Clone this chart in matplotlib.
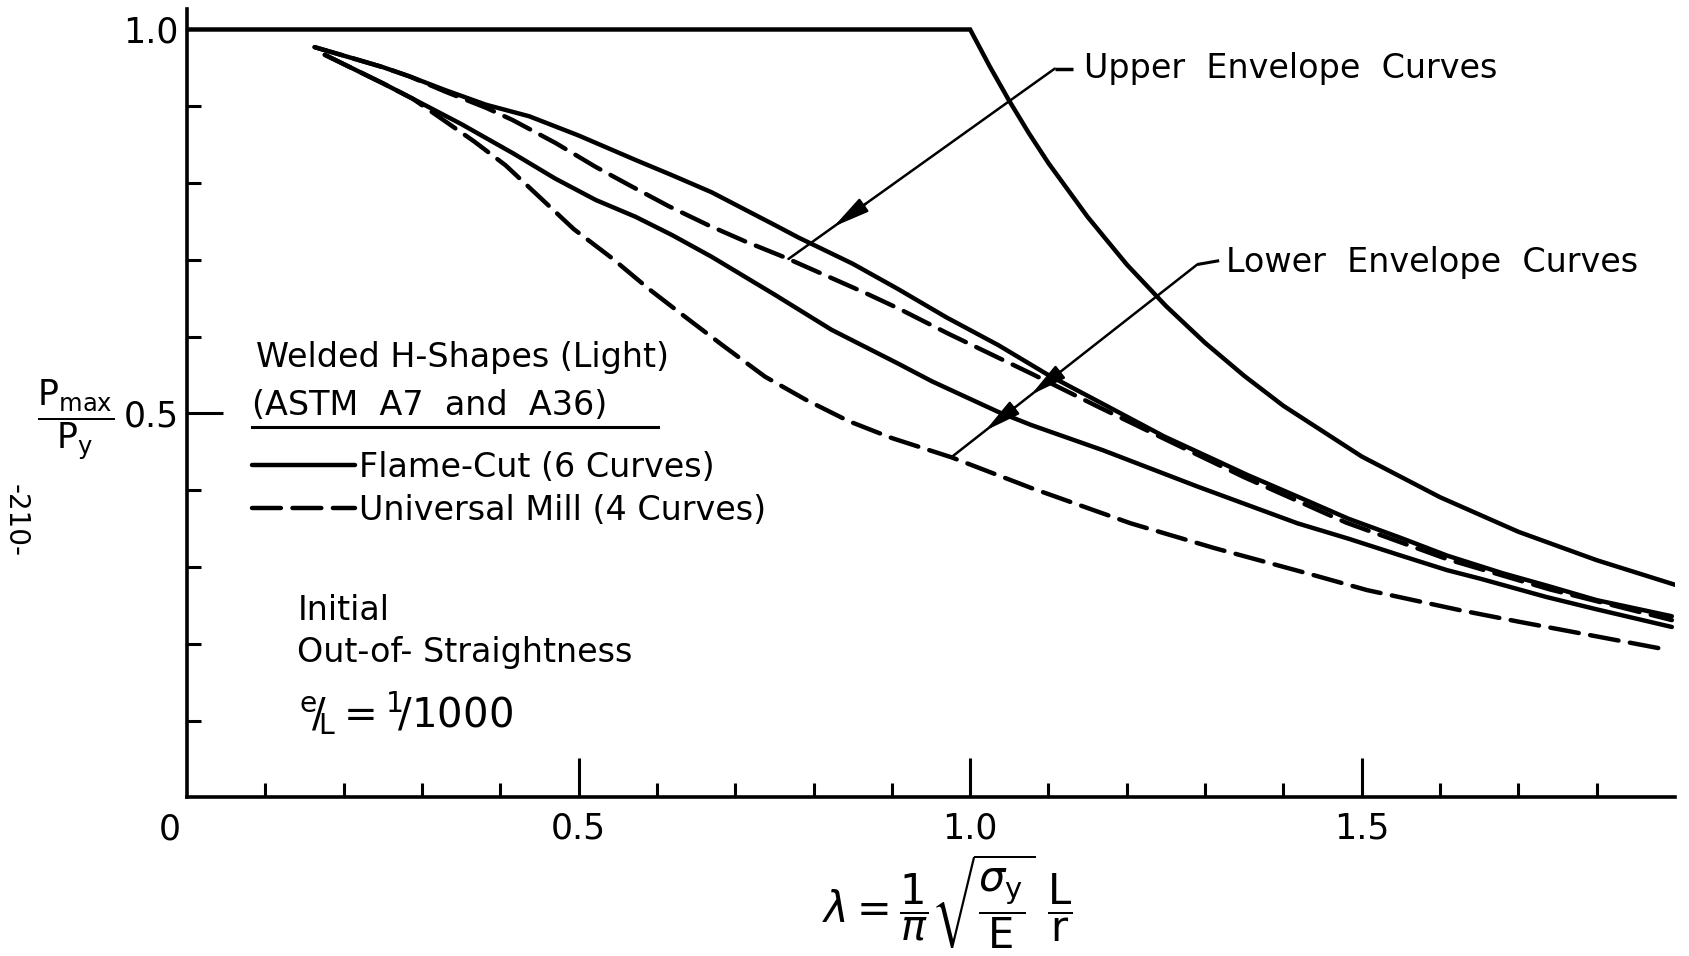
# -*- coding: utf-8 -*-

# %% Import required libraries
import matplotlib.pyplot as plt
import matplotlib.transforms as mtransforms
import numpy as np

plt.rcParams['font.family'] = ['DejaVu Sans']
plt.rcParams['mathtext.fontset'] = 'dejavusans'

# %% Column strength curves, welded H-shapes (light), e/L = 1/1000
# Euler / yield limit
lam_euler = [0.0, 1.0, 1.025, 1.05, 1.075, 1.1, 1.15, 1.2, 1.25, 1.3, 1.35,
             1.4, 1.5, 1.6, 1.7, 1.8, 1.9]
p_euler = [1.0, 1.0, 0.952, 0.907, 0.865, 0.826, 0.756, 0.694, 0.640, 0.592,
           0.549, 0.510, 0.444, 0.391, 0.346, 0.309, 0.277]

# Flame-cut, upper envelope
lam_fc_up = [0.163, 0.20, 0.25, 0.284, 0.33, 0.382, 0.437, 0.50, 0.573, 0.62,
             0.67, 0.755, 0.781, 0.85, 0.908, 0.97, 1.036, 1.10, 1.163, 1.248,
             1.316, 1.354, 1.42, 1.483, 1.55, 1.609, 1.68, 1.736, 1.80, 1.896]
p_fc_up = [0.977, 0.966, 0.951, 0.939, 0.921, 0.902, 0.887, 0.862, 0.830, 0.810,
           0.788, 0.743, 0.729, 0.695, 0.662, 0.625, 0.589, 0.550, 0.516, 0.470,
           0.438, 0.420, 0.391, 0.363, 0.338, 0.315, 0.292, 0.276, 0.257, 0.236]

# Universal mill, upper envelope
lam_um_up = [0.163, 0.20, 0.25, 0.284, 0.33, 0.382, 0.416, 0.471, 0.522, 0.569,
             0.615, 0.666, 0.713, 0.764, 0.815, 0.866, 0.908, 0.972, 1.078,
             1.163, 1.25, 1.35, 1.48, 1.61, 1.74, 1.896]
p_um_up = [0.977, 0.966, 0.951, 0.939, 0.919, 0.898, 0.882, 0.852, 0.821, 0.795,
           0.770, 0.745, 0.724, 0.703, 0.680, 0.657, 0.637, 0.604, 0.552,
           0.509, 0.466, 0.417, 0.358, 0.310, 0.271, 0.231]

# Flame-cut, lower envelope
lam_fc_lo = [0.176, 0.20, 0.25, 0.288, 0.35, 0.416, 0.47, 0.522, 0.573, 0.62,
             0.67, 0.75, 0.823, 0.908, 0.951, 1.036, 1.078, 1.17, 1.29, 1.354,
             1.418, 1.483, 1.55, 1.609, 1.651, 1.736, 1.80, 1.896]
p_fc_lo = [0.967, 0.955, 0.930, 0.910, 0.877, 0.839, 0.806, 0.778, 0.756, 0.732,
           0.704, 0.655, 0.609, 0.565, 0.542, 0.502, 0.485, 0.452, 0.405, 0.381,
           0.357, 0.337, 0.315, 0.296, 0.285, 0.261, 0.245, 0.222]

# Universal mill, lower envelope
lam_um_lo = [0.176, 0.20, 0.25, 0.288, 0.322, 0.367, 0.407, 0.450, 0.494, 0.543,
             0.590, 0.632, 0.685, 0.738, 0.79, 0.845, 0.90, 0.976, 1.078, 1.205,
             1.311, 1.43, 1.507, 1.625, 1.70, 1.778, 1.892]
p_um_lo = [0.967, 0.955, 0.930, 0.910, 0.886, 0.854, 0.823, 0.782, 0.740, 0.702,
           0.662, 0.629, 0.588, 0.548, 0.518, 0.490, 0.468, 0.443, 0.403, 0.357,
           0.325, 0.292, 0.270, 0.244, 0.229, 0.214, 0.192]

x_major = [0.5, 1.0, 1.5]
x_major_labels = ['0.5', '1.0', '1.5']
x_minor = [0.1, 0.2, 0.3, 0.4, 0.6, 0.7, 0.8, 0.9, 1.1, 1.2, 1.3, 1.4, 1.6, 1.7, 1.8]
y_major = [0.5, 1.0]
y_major_labels = ['0.5', '1.0']
y_minor = [0.1, 0.2, 0.3, 0.4, 0.6, 0.7, 0.8, 0.9]

FS = 24
LW = 3.2
DASH = (0, (6.5, 2.6))


def leader(ax, start, end, heads, lw=1.8):
    # straight leader line with small arrowheads part way along it
    ax.annotate('', xy=end, xytext=start,
                arrowprops=dict(arrowstyle='-', lw=lw, color='k',
                                shrinkA=0, shrinkB=0))
    s = np.array(start)
    e = np.array(end)
    for f in heads:
        tip = s + f * (e - s)
        tail = s + (f - 0.12) * (e - s)
        ax.annotate('', xy=tip, xytext=tail,
                    arrowprops=dict(arrowstyle='-|>,head_length=1.0,head_width=0.22',
                                    lw=lw, color='k', mutation_scale=22,
                                    shrinkA=0, shrinkB=0))


# %% Plot
fig = plt.figure(figsize=(16.89, 9.56), dpi=100)
ax = fig.add_axes([0.1107, 0.1658, 0.881, 0.8248])

ax.plot(lam_euler, p_euler, color='k', lw=LW, solid_joinstyle='miter')
fc1, = ax.plot(lam_fc_up, p_fc_up, color='k', lw=LW, solid_capstyle='round',
               label='Flame-Cut (6 Curves)')
ax.plot(lam_fc_lo, p_fc_lo, color='k', lw=LW, solid_capstyle='round')
um1, = ax.plot(lam_um_up, p_um_up, color='k', lw=LW, ls=DASH,
               dash_capstyle='round', label='Universal Mill (4 Curves)')
ax.plot(lam_um_lo, p_um_lo, color='k', lw=LW, ls=DASH, dash_capstyle='round')

ax.set_xlim(0, 1.9)
ax.set_ylim(0, 1.0267)

for side in ['top', 'right']:
    ax.spines[side].set_visible(False)
for side in ['left', 'bottom']:
    ax.spines[side].set_linewidth(2.6)

ax.set_xticks(x_major)
ax.set_xticklabels(x_major_labels)
ax.set_xticks(x_minor, minor=True)
ax.set_yticks(y_major)
ax.set_yticklabels(y_major_labels)
ax.set_yticks(y_minor, minor=True)
ax.tick_params(axis='x', which='major', direction='in', length=28, width=2.2,
               pad=10, labelsize=FS + 1)
ax.tick_params(axis='x', which='minor', direction='in', length=10, width=2.2)
ax.tick_params(axis='y', which='major', direction='in', length=26, width=2.2,
               pad=6, labelsize=FS + 1)
ax.tick_params(axis='y', which='minor', direction='in', length=10, width=2.2)

# origin label sits left of the axis corner
blend = mtransforms.blended_transform_factory(ax.transData, ax.transAxes)
ax.text(-0.022, -0.0184, '0', transform=blend, fontsize=FS + 1,
        ha='center', va='top')

# envelope labels and leaders
ax.plot([1.108, 1.131], [0.949, 0.949], color='k', lw=2.5, solid_capstyle='butt')
ax.text(1.145, 0.937, 'Upper  Envelope  Curves', fontsize=FS, va='baseline')
up_end = (0.768, float(np.interp(0.768, lam_um_up, p_um_up)))
leader(ax, (1.108, 0.949), up_end, [0.83])

ax.plot([1.290, 1.318], [0.694, 0.699], color='k', lw=2.2, solid_capstyle='butt')
ax.text(1.327, 0.684, 'Lower  Envelope  Curves', fontsize=FS, va='baseline')
lo_end = (0.976, float(np.interp(0.976, lam_um_lo, p_um_lo)))
leader(ax, (1.290, 0.694), lo_end, [0.676, 0.862])

# legend block
ax.text(0.088, 0.5605, 'Welded H-Shapes (Light)', fontsize=FS, va='baseline')
ax.text(0.083, 0.498, '(ASTM  A7  and  A36)', fontsize=FS, va='baseline')
ax.plot([0.083, 0.601], [0.4824, 0.4824], color='k', lw=2.2)
ax.legend(handles=[fc1, um1], loc='upper left', bbox_to_anchor=(0.0437, 0.440),
          frameon=False, fontsize=FS, handlelength=3.1, handletextpad=0.1,
          borderpad=0, borderaxespad=0, labelspacing=0.3)

ax.text(0.141, 0.2311, 'Initial', fontsize=FS, va='baseline')
ax.text(0.141, 0.1764, 'Out-of- Straightness', fontsize=FS, va='baseline')
ax.text(0.143, 0.0918, r'${}^{\mathrm{e}}\!/\!{}_{\mathrm{L}} = {}^{1}\!/\mathrm{1000}$',
        fontsize=29, va='baseline')

# axis titles
fig.text(0.0445, 0.5607,
         r'$\dfrac{\mathrm{P}_{\mathrm{max}}}{\mathrm{P}_{\mathrm{y}}}$',
         fontsize=25, ha='center', va='center')
fig.text(0.5606, 0.004,
         r'$\lambda = \dfrac{1}{\pi}\sqrt{\dfrac{\sigma_{\mathrm{y}}}{\mathrm{E}}}\ \dfrac{\mathrm{L}}{\mathrm{r}}$',
         fontsize=30, ha='center', va='bottom')
fig.text(0.0095, 0.456, '-210-', fontsize=20, rotation=-90,
         ha='center', va='center')

plt.savefig('out.png', dpi=100)
